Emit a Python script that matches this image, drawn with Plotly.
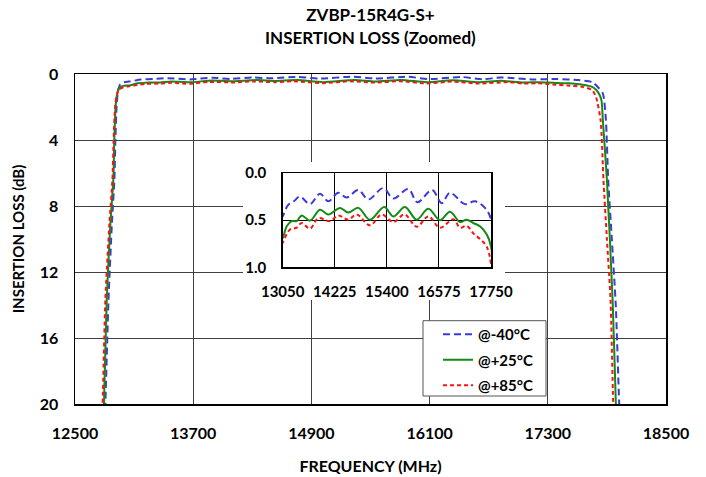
import plotly.graph_objects as go

# ---------------- data ----------------
FREQ_M40 = [12775, 12808, 12840, 12875, 12900, 12910, 12922, 12935, 12960, 13000, 13050, 13170, 13300, 13440,
            13666, 13891, 14079, 14305, 14494, 14756, 14981, 15320, 15545, 15884, 16090, 16420, 16637, 16824,
            17163, 17388, 17614, 17750, 17810, 17860, 17890, 17913, 17950, 17990, 18025, 18060]
LOSS_M40 = [25, 20, 13.7, 9, 6.4, 4, 2.0, 1.1, 0.62, 0.5, 0.46, 0.34, 0.30, 0.25,
            0.33, 0.22, 0.30, 0.21, 0.26, 0.18, 0.28, 0.16, 0.27, 0.17, 0.31, 0.18, 0.32, 0.21,
            0.33, 0.30, 0.37, 0.49, 0.8, 1.2, 2.8, 6.4, 10, 14, 20, 25]

FREQ_P25 = [12760, 12794, 12822, 12860, 12889, 12899, 12912, 12925, 12945, 12990, 13050, 13140, 13253, 13366,
            13479, 13666, 13891, 14079, 14343, 14530, 14756, 15020, 15340, 15545, 15809, 16073, 16335, 16599,
            16824, 17050, 17201, 17350, 17501, 17652, 17750, 17790, 17820, 17845, 17859, 17900, 17958, 17991, 18020]
LOSS_P25 = [25, 20, 13.7, 9, 6.4, 4, 2.0, 1.3, 0.85, 0.72, 0.69, 0.565, 0.51, 0.51,
            0.45, 0.505, 0.39, 0.44, 0.37, 0.42, 0.37, 0.495, 0.36, 0.46, 0.36, 0.495, 0.38, 0.50,
            0.41, 0.52, 0.495, 0.53, 0.565, 0.65, 0.78, 0.95, 1.2, 1.6, 2.8, 6.4, 13.7, 20, 25]

FREQ_P85 = [12745, 12780, 12808, 12850, 12880, 12892, 12906, 12920, 12945, 12990, 13050, 13215, 13366, 13479,
            13666, 13853, 14117, 14304, 14530, 14719, 15020, 15283, 15545, 15800, 16073, 16335, 16599, 16900,
            17050, 17201, 17350, 17501, 17652, 17750, 17790, 17836, 17865, 17900, 17937, 17964, 17995]
LOSS_P85 = [25, 20, 13.7, 9, 6.4, 4, 2.1, 1.4, 0.95, 0.8, 0.74, 0.60, 0.58, 0.53,
            0.59, 0.48, 0.51, 0.45, 0.495, 0.44, 0.555, 0.44, 0.52, 0.44, 0.57, 0.46, 0.58, 0.49,
            0.58, 0.56, 0.64, 0.70, 0.78, 0.97, 1.4, 2.8, 6.4, 10, 13.7, 20, 25]

SERIES_NAMES = ["@-40°C", "@+25°C", "@+85°C"]

MAIN_X_TICKS = [12500, 13700, 14900, 16100, 17300, 18500]
MAIN_Y_TICKS = [0, 4, 8, 12, 16, 20]
INSET_X_TICKS = [13050, 14225, 15400, 16575, 17750]
INSET_Y_TICKS = [0.0, 0.5, 1.0]

TITLE_1 = "ZVBP-15R4G-S+"
TITLE_2 = "INSERTION LOSS (Zoomed)"
X_TITLE = "FREQUENCY (MHz)"
Y_TITLE = "INSERTION LOSS (dB)"

# ---------------- style ----------------
FONT = "Lato"
W, H = 706, 477
L, R, T, B = 75, 40, 74, 73
PW, PH = W - L - R, H - T - B


def px_x(p):
    return (p - L) / PW


def px_y(p):
    return (H - B - p) / PH


styles = [
    dict(color="#3a3ad8", width=2, dash="7px,4px"),
    dict(color="#138a13", width=2, dash="solid"),
    dict(color="#ff1010", width=2, dash="4px,3px"),
]
data = [(FREQ_M40, LOSS_M40), (FREQ_P25, LOSS_P25), (FREQ_P85, LOSS_P85)]

fig = go.Figure()

for i, ((f, l), name) in enumerate(zip(data, SERIES_NAMES)):
    fig.add_trace(go.Scatter(x=f, y=l, mode="lines", name=name,
                             line=dict(shape="spline", smoothing=0.6, **styles[i]),
                             legendgroup=name, xaxis="x", yaxis="y", hoverinfo="skip"))

# white cover behind the inset (empty subplot)
fig.add_trace(go.Scatter(x=[], y=[], xaxis="x2", yaxis="y2", showlegend=False, hoverinfo="skip"))

for i, ((f, l), name) in enumerate(zip(data, SERIES_NAMES)):
    fig.add_trace(go.Scatter(x=f, y=l, mode="lines", name=name, showlegend=False,
                             line=dict(shape="spline", smoothing=1.0, **styles[i]),
                             xaxis="x3", yaxis="y3", hoverinfo="skip"))

tickfont = dict(family=FONT, size=16, color="black", weight="bold")
inset_tickfont = dict(family=FONT, size=15, color="black", weight="bold")
titlefont = dict(family=FONT, size=17, color="black", weight="bold")
axtitlefont = dict(family=FONT, size=16, color="black", weight="bold")

fig.update_layout(
    width=W, height=H,
    margin=dict(l=L, r=R, t=T, b=B, autoexpand=False),
    paper_bgcolor="white", plot_bgcolor="white",
    font=dict(family=FONT, color="black"),
    title=dict(text=TITLE_1, x=0.5, xref="paper", xanchor="center",
               y=1 - 15 / H, yref="container", yanchor="middle", automargin=False,
               font=titlefont),
    xaxis=dict(domain=[0, 1], range=[12500, 18500], tickvals=MAIN_X_TICKS, tickformat="d", showgrid=True,
               gridcolor="#404040", gridwidth=1, zeroline=False, showline=True, linecolor="black",
               linewidth=1.5, mirror=True, ticks="", tickfont=tickfont, ticklabelstandoff=14,
               automargin=False,
               title=dict(text=X_TITLE, font=axtitlefont, standoff=20)),
    yaxis=dict(domain=[0, 1], range=[20, 0], tickvals=MAIN_Y_TICKS, showgrid=True,
               gridcolor="#404040", gridwidth=1, zeroline=False, showline=True, linecolor="black",
               linewidth=1.5, mirror=True, ticks="", tickfont=tickfont, ticklabelstandoff=12,
               automargin=False,
               title=dict(text=Y_TITLE, font=dict(family=FONT, size=15, color="black", weight="bold"),
                          standoff=11)),
    xaxis2=dict(domain=[px_x(243), px_x(505)], range=[0, 1], visible=False, anchor="y2"),
    yaxis2=dict(domain=[px_y(300), px_y(162)], range=[0, 1], visible=False, anchor="x2"),
    xaxis3=dict(domain=[px_x(282.7), px_x(491)], range=[13050, 17750], tickvals=INSET_X_TICKS,
                tickformat="d", showgrid=True, gridcolor="black", gridwidth=1, zeroline=False,
                showline=True, linecolor="black", linewidth=1.5, mirror=True, ticks="",
                tickfont=inset_tickfont, ticklabelstandoff=10, anchor="y3", automargin=False),
    yaxis3=dict(domain=[px_y(267.3), px_y(173)], range=[1, 0], tickvals=INSET_Y_TICKS, tickformat=".1f",
                showgrid=True, gridcolor="black", gridwidth=1, zeroline=False, showline=True,
                linecolor="black", linewidth=1.5, mirror=True, ticks="", tickfont=inset_tickfont,
                ticklabelstandoff=12, anchor="x3", automargin=False),
    legend=dict(x=px_x(438), y=px_y(318), xanchor="left", yanchor="top", xref="paper", yref="paper",
                bgcolor="rgba(0,0,0,0)", borderwidth=0, tracegroupgap=3,
                font=dict(family=FONT, size=15, color="black", weight="bold")),
    shapes=[dict(type="rect", xref="paper", yref="paper", x0=px_x(423), x1=px_x(546), y0=px_y(396),
                 y1=px_y(320.7), line=dict(color="#555555", width=1), fillcolor="white", layer="above")],
    annotations=[dict(text=TITLE_2, xref="paper", yref="paper", x=0.5, y=px_y(38), xanchor="center",
                      yanchor="middle", showarrow=False, font=titlefont)],
)

fig.write_html("out.html", config={"displayModeBar": False, "staticPlot": True},
               post_script="document.body.style.margin='0';document.body.style.overflow='hidden';")
